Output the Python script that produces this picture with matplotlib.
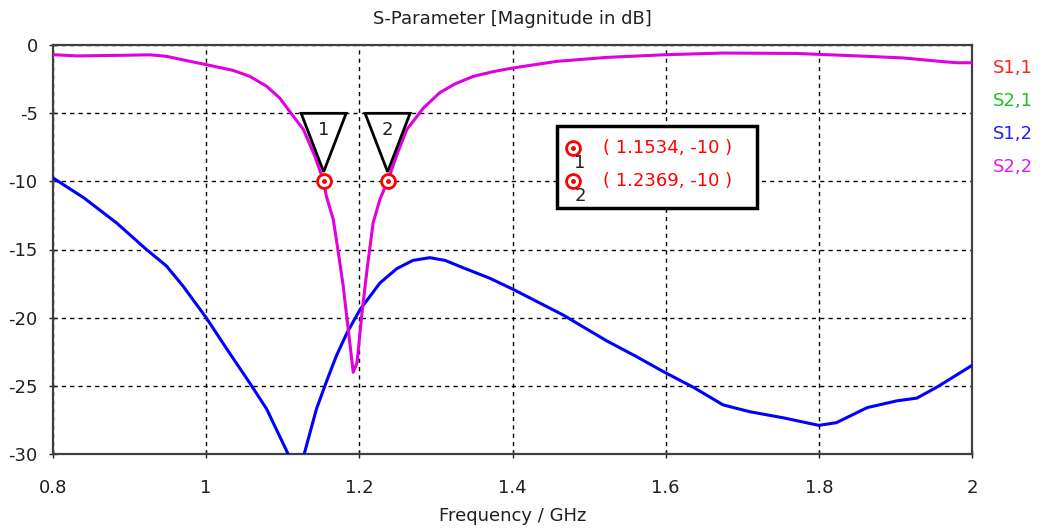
import matplotlib
matplotlib.use("Agg")
import matplotlib.pyplot as plt
from matplotlib.patches import Polygon, Rectangle
from matplotlib.transforms import ScaledTranslation

plt.rcParams["axes.unicode_minus"] = False

# S2,2 (magenta) magnitude in dB
s22_f = [0.800, 0.831, 0.896, 0.927, 0.948, 0.979, 1.000, 1.035, 1.057, 1.079,
         1.096, 1.109, 1.127, 1.142, 1.1534, 1.157, 1.166, 1.172, 1.179, 1.186,
         1.192, 1.197, 1.203, 1.210, 1.218, 1.227, 1.2369, 1.250, 1.262, 1.284,
         1.305, 1.325, 1.349, 1.375, 1.400, 1.458, 1.523, 1.601, 1.675, 1.771,
         1.863, 1.910, 1.958, 1.980, 2.000]
s22_db = [-0.71, -0.80, -0.75, -0.72, -0.83, -1.20, -1.44, -1.86, -2.30, -3.03,
          -3.89, -4.87, -6.20, -8.17, -10.0, -11.1, -12.8, -15.0, -17.7, -21.1,
          -24.0, -23.3, -19.9, -16.5, -13.05, -11.3, -10.0, -7.9, -6.2, -4.6,
          -3.5, -2.85, -2.3, -1.95, -1.69, -1.20, -0.91, -0.71, -0.59, -0.62,
          -0.83, -0.95, -1.20, -1.30, -1.30]

# S1,2 (blue) magnitude in dB
s12_f = [0.800, 0.840, 0.883, 0.922, 0.948, 0.970, 1.000, 1.027, 1.057, 1.079,
         1.107, 1.117, 1.128, 1.144, 1.157, 1.170, 1.184, 1.201, 1.227, 1.249,
         1.270, 1.292, 1.312, 1.336, 1.370, 1.400, 1.466, 1.523, 1.560, 1.600,
         1.636, 1.675, 1.710, 1.754, 1.800, 1.823, 1.863, 1.902, 1.928, 1.954,
         1.980, 2.000]
s12_db = [-9.75, -11.2, -13.05, -15.0, -16.2, -17.7, -20.0, -22.3, -24.8, -26.7,
          -30.0, -31.5, -30.0, -26.7, -24.7, -22.8, -21.1, -19.4, -17.45, -16.4,
          -15.8, -15.6, -15.8, -16.35, -17.1, -17.9, -19.8, -21.7, -22.8, -24.05,
          -25.1, -26.4, -26.9, -27.35, -27.9, -27.7, -26.6, -26.1, -25.9, -25.1,
          -24.2, -23.5]

marker_ids = ["1", "2"]
marker_f = [1.1534, 1.2369]
marker_db = [-10, -10]

legend_names = ["S1,1", "S2,1", "S1,2", "S2,2"]
legend_colors = ["#ff2020", "#20c020", "#2020ff", "#e020e0"]

W, H = 1042, 531
fig = plt.figure(figsize=(W / 100, H / 100), dpi=100)
ax = fig.add_axes([53 / W, 1 - 454 / H, 919 / W, 409 / H])

def fx(px):
    return px / W

def fy(py):
    return 1 - py / H

ax.plot(s12_f, s12_db, color="#0000ff", lw=2.2, zorder=3)
ax.plot(s22_f, s22_db, color="#e000e0", lw=2.2, zorder=4)

ax.set_xlim(0.8, 2.0)
ax.set_ylim(-30, 0)
ax.set_xticks([0.8, 1.0, 1.2, 1.4, 1.6, 1.8, 2.0])
ax.set_xticklabels(["0.8", "1", "1.2", "1.4", "1.6", "1.8", "2"])
ax.set_yticks([0, -5, -10, -15, -20, -25, -30])
ax.grid(True, color="black", linestyle=(0, (3, 3)), lw=1)
ax.tick_params(direction="inout", length=6, width=1, labelsize=13,
               colors="#202020", pad=8)
ax.tick_params(axis="x", pad=15)
for sp in ax.spines.values():
    sp.set_color("#404040")
    sp.set_linewidth(1.6)

ax.set_title("S-Parameter [Magnitude in dB]", fontsize=13, color="#202020", pad=15)
ax.set_xlabel("Frequency / GHz", fontsize=13, color="#202020", labelpad=7)

# markers with triangle flags
for mid, mf, md in zip(marker_ids, marker_f, marker_db):
    off = fig.dpi_scale_trans + ScaledTranslation(mf, md, ax.transData)
    tri = Polygon([(-0.225, 0.68), (0.225, 0.68), (0, 0.095)], closed=True,
                  facecolor="white", edgecolor="black", lw=2, transform=off,
                  zorder=6)
    ax.add_patch(tri)
    ax.text(0, 0.51, mid, transform=off, ha="center", va="center",
            fontsize=13, color="#202020", zorder=7)
    ax.plot([mf], [md], "o", ms=10, mfc="white", mec="#ff0000", mew=2, zorder=8)
    ax.plot([mf], [md], "o", ms=2.5, color="#ff0000", zorder=9)

# marker readout box
box = Rectangle((fx(557), fy(208)), 200 / W, 82 / H, transform=fig.transFigure,
                facecolor="white", edgecolor="black", lw=2.5, zorder=10)
fig.patches.append(box)
for i, (mid, mf, md) in enumerate(zip(marker_ids, marker_f, marker_db)):
    yc = 148 + i * 33
    fig.lines.append(plt.Line2D([fx(573)], [fy(yc)], marker="o", ms=10,
                                mfc="white", mec="#ff0000", mew=2,
                                transform=fig.transFigure, zorder=11))
    fig.lines.append(plt.Line2D([fx(573)], [fy(yc)], marker="o", ms=2.5,
                                color="#ff0000", transform=fig.transFigure,
                                zorder=12))
    fig.text(fx(580), fy(yc + 15), mid, ha="center", va="center", fontsize=13,
             color="#202020", zorder=12)
    fig.text(fx(603), fy(yc), f"( {mf:.4f}, {md:.0f} )", ha="left",
             va="center", fontsize=13, color="#ff0000", zorder=12)

# legend on the right
for i, (name, col) in enumerate(zip(legend_names, legend_colors)):
    fig.text(fx(993), fy(68 + i * 33), name, ha="left", va="center",
             fontsize=13, color=col)

fig.savefig("out.png", dpi=100)
